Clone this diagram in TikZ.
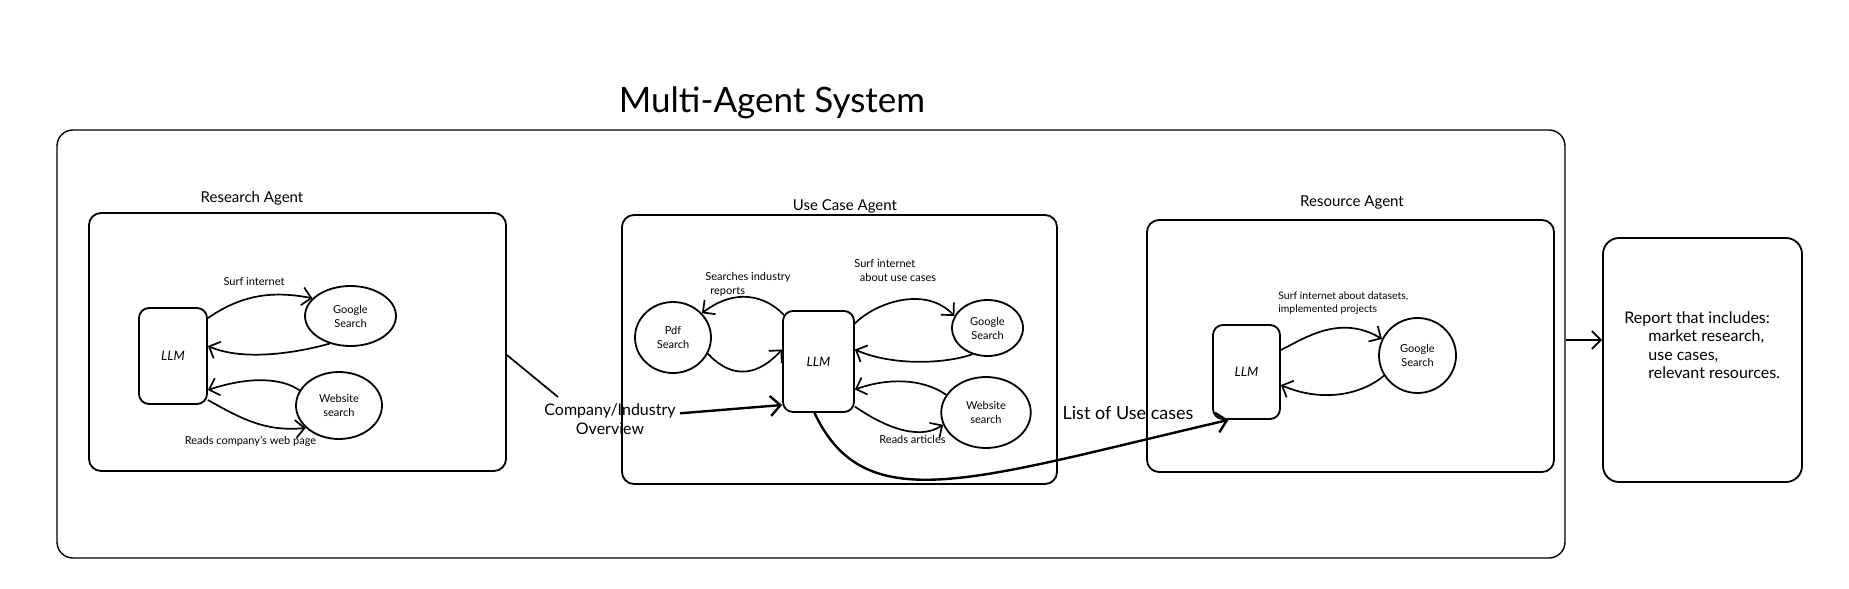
\documentclass[tikz,border=0pt]{standalone}
\usepackage{fontspec}
\setmainfont{Lato}
\usetikzlibrary{arrows.meta,shapes.geometric}

\begin{document}
\begin{tikzpicture}[x=0.5pt,y=-0.5pt,
    agent/.style={draw,line width=0.9pt,rounded corners=6pt},
    agentlbl/.style={font=\fontsize{7.5}{9}\selectfont,inner sep=1pt},
    llm/.style={draw,line width=0.9pt,rounded corners=5pt,font=\fontsize{6.5}{8}\selectfont\itshape},
    tool/.style={draw,ellipse,line width=0.9pt,inner sep=0pt,align=center,font=\fontsize{5.5}{7}\selectfont},
    note/.style={font=\fontsize{5.5}{7}\selectfont,align=left,inner sep=0pt},
    lbl/.style={font=\fontsize{8}{9.25}\selectfont,align=left,inner sep=2pt},
    flow/.style={line width=0.85pt,-{Straight Barb[length=4.5pt,width=9pt]}},
    bigflow/.style={line width=1.2pt,-{Straight Barb[length=5pt,width=10pt]}}]
    \useasboundingbox (0,0) rectangle (1849,589);

    % outer frame
    \node[draw,line width=0.7pt,rounded corners=8pt,minimum width=754pt,minimum height=214pt] (outer) at (811,344) {};
    \node[font=\fontsize{17.5}{20}\selectfont] (title) at (772,103) {Multi-Agent System};

    % research agent
    \node[agent,minimum width=208.5pt,minimum height=129pt] (research) at (297.5,342) {};
    \node[agentlbl] (researchlbl) at (252,198) {Research Agent};
    \node[llm,minimum width=34pt,minimum height=48pt] (rllm) at (173,356) {LLM};
    \node[tool,minimum width=45.5pt,minimum height=30pt] (rgoogle) at (350.5,316) {Google\\Search};
    \node[tool,minimum width=43pt,minimum height=33.5pt] (rweb) at (339,405.5) {Website\\search};
    \node[note] (rsurf) at (254,282) {Surf internet};
    \node[note] (rreads) at (250.5,441) {Reads company's web page};
    \draw[flow] ([yshift=-5.5pt]rllm.north east) .. controls (240,296) and (270,290) .. (rgoogle.155);
    \draw[flow] (rgoogle.233) .. controls (300,352) and (245,362) .. ([yshift=5pt]rllm.east);
    \draw[flow] (rweb.159) .. controls (282,378) and (250,376) .. ([yshift=-17pt]rllm.east);
    \draw[flow] ([yshift=-22pt]rllm.east) .. controls (240,418) and (265,432) .. (rweb.214);

    % research -> use case
    \node[lbl,align=center] (cotext) at (610,419) {Company/Industry\\Overview};
    \coordinate (cobreak) at (558,397);
    \draw[line width=0.85pt] ([yshift=-6.5pt]research.east) -- (cobreak);

    % use case agent
    \node[agent,minimum width=217.5pt,minimum height=134.5pt] (usecase) at (839.5,349.5) {};
    \node[agentlbl] (usecaselbl) at (845,206) {Use Case Agent};
    \node[llm,minimum width=35.5pt,minimum height=50.5pt] (ucllm) at (818.5,361.5) {LLM};
    \node[tool,minimum width=38pt,minimum height=35.5pt] (ucpdf) at (673,337.5) {Pdf\\Search};
    \node[tool,minimum width=35.5pt,minimum height=28pt] (ucgoogle) at (987.5,328) {Google\\Search};
    \node[tool,minimum width=44.75pt,minimum height=35.5pt] (ucweb) at (986,412.5) {Website\\search};
    \node[note,anchor=west] (ucpdflbl) at (705,284.5) {Searches industry\\\hspace*{2.5pt}reports};
    \node[note,anchor=west] (ucsurf) at (854,270.5) {Surf internet\\\hspace*{2.75pt}about use cases};
    \node[note] (ucreads) at (912.5,439) {Reads articles};
    \draw[bigflow] (cotext) -- ([yshift=-21.75pt]ucllm.west);
    \draw[flow] ([xshift=1pt,yshift=-2.5pt]ucllm.north west) .. controls (765,295) and (735,288) .. (ucpdf.40);
    \draw[flow] (ucpdf.-25) .. controls (727,374) and (752,382) .. ([yshift=6pt]ucllm.west);
    \draw[flow] ([yshift=19pt]ucllm.east) .. controls (875,303) and (925,285) .. (ucgoogle.160);
    \draw[flow] (ucgoogle.240) .. controls (945,364) and (892,366) .. ([yshift=6pt]ucllm.east);
    \draw[flow] (ucweb.156) .. controls (922,378) and (887,378) .. ([yshift=-14pt]ucllm.east);
    \draw[flow] ([yshift=-22.5pt]ucllm.east) .. controls (880,424) and (917,442) .. (ucweb.196);

    % resource agent
    \node[agent,minimum width=203.5pt,minimum height=126pt] (resource) at (1350.5,346) {};
    \node[agentlbl] (resourcelbl) at (1352,202) {Resource Agent};
    \node[llm,minimum width=33.5pt,minimum height=47pt] (resllm) at (1246.5,372) {LLM};
    \node[tool,minimum width=38.5pt,minimum height=37.5pt] (resgoogle) at (1417.5,355.5) {Google\\Search};
    \node[note,anchor=west,font=\fontsize{5.2}{6.2}\selectfont] (ressurf) at (1278,303) {Surf internet about datasets,\\implemented projects};
    \draw[flow] ([yshift=11pt]resllm.east) .. controls (1305,338) and (1340,314) .. (resgoogle.155);
    \draw[flow] (resgoogle.211) .. controls (1360,396) and (1320,402) .. ([yshift=-6.5pt]resllm.east);

    % use case -> resource
    \node[lbl,font=\fontsize{9}{10}\selectfont] (listlbl) at (1128,413) {List of Use cases};
    \draw[bigflow] ([xshift=-2pt]ucllm.south) .. controls (865,520) and (970,480) .. ([xshift=-9pt]resllm.south);

    % final report
    \node[agent,rounded corners=8pt,minimum width=99.5pt,minimum height=122pt] (report) at (1702.5,360) {};
    \node[lbl,anchor=west] (reporttxt) at (1620,345) {Report that includes:\\\hspace*{12pt}market research,\\\hspace*{12pt}use cases,\\\hspace*{12pt}relevant resources.};
    \draw[flow] ([yshift=2pt]outer.east) -- ([yshift=10pt]report.west);
\end{tikzpicture}
\end{document}
